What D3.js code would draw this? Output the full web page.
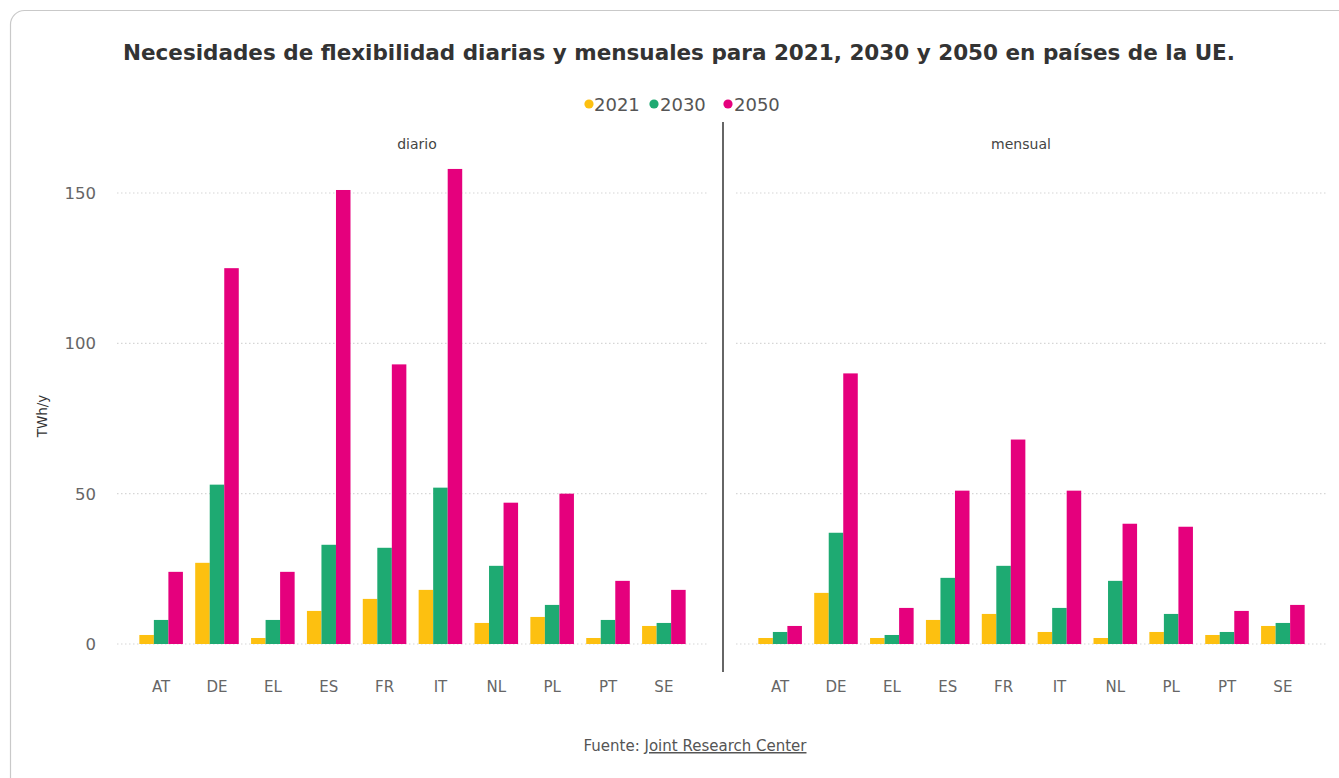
<!DOCTYPE html>
<html>
<head>
<meta charset="utf-8">
<script src="https://cdn.jsdelivr.net/npm/d3@7"></script>
<style>
  html, body { margin: 0; padding: 0; background: #fff; }
  svg { display: block; font-family: "DejaVu Sans", "Noto Sans", sans-serif; }
</style>
</head>
<body>
<svg id="chart" width="1339" height="778"></svg>
<script>
// Flexibility needs (TWh/y) per country, daily and monthly, for three horizon years
const countries = ["AT", "DE", "EL", "ES", "FR", "IT", "NL", "PL", "PT", "SE"];
const years = ["2021", "2030", "2050"];
const yearColors = ["#fdc010", "#1eaa72", "#e5007d"];

const daily2021 = [3, 27, 2, 11, 15, 18, 7, 9, 2, 6];
const daily2030 = [8, 53, 8, 33, 32, 52, 26, 13, 8, 7];
const daily2050 = [24, 125, 24, 151, 93, 158, 47, 50, 21, 18];

const monthly2021 = [2, 17, 2, 8, 10, 4, 2, 4, 3, 6];
const monthly2030 = [4, 37, 3, 22, 26, 12, 21, 10, 4, 7];
const monthly2050 = [6, 90, 12, 51, 68, 51, 40, 39, 11, 13];

const yTicks = [0, 50, 100, 150];
const panelNames = ["diario", "mensual"];

const titleText = "Necesidades de flexibilidad diarias y mensuales para 2021, 2030 y 2050 en países de la UE.";
const yLabel = "TWh/y";
const sourcePrefix = "Fuente: ";
const sourceName = "Joint Research Center";

const panels = [
  { name: panelNames[0], series: [daily2021, daily2030, daily2050], range: [117, 708], labelX: 417 },
  { name: panelNames[1], series: [monthly2021, monthly2030, monthly2050], range: [736, 1327], labelX: 1021 }
];

const svg = d3.select("#chart");

// card frame
svg.append("rect")
  .attr("x", 10.5).attr("y", 10.5)
  .attr("width", 1400).attr("height", 820)
  .attr("rx", 14)
  .attr("fill", "#fff")
  .attr("stroke", "#c9c9c9")
  .attr("stroke-width", 1.2);

// title
svg.append("text")
  .attr("x", 679).attr("y", 60)
  .attr("text-anchor", "middle")
  .attr("font-size", 21.5)
  .attr("font-weight", 700)
  .attr("fill", "#333")
  .text(titleText);

// legend
const legendItems = [
  { label: years[0], color: yearColors[0], dot: 589, text: 594 },
  { label: years[1], color: yearColors[1], dot: 654, text: 660 },
  { label: years[2], color: yearColors[2], dot: 728, text: 734 }
];
const legend = svg.append("g");
legend.selectAll("circle").data(legendItems).join("circle")
  .attr("cx", d => d.dot).attr("cy", 104)
  .attr("r", 4.6)
  .attr("fill", d => d.color);
legend.selectAll("text").data(legendItems).join("text")
  .attr("x", d => d.text).attr("y", 110.5)
  .attr("font-size", 18)
  .attr("fill", "#555")
  .text(d => d.label);

// shared value scale
const y = d3.scaleLinear().domain([0, 150]).range([644, 193]);

// y axis tick labels
svg.append("g").selectAll("text").data(yTicks).join("text")
  .attr("x", 96).attr("y", d => y(d) + 6)
  .attr("text-anchor", "end")
  .attr("font-size", 16.5)
  .attr("fill", "#666")
  .text(d => d);

// y axis title
svg.append("text")
  .attr("transform", "translate(47,416) rotate(-90)")
  .attr("text-anchor", "middle")
  .attr("font-size", 13.5)
  .attr("fill", "#333")
  .text(yLabel);

panels.forEach(p => {
  const g = svg.append("g");

  const x0 = d3.scaleBand().domain(countries).range(p.range)
    .paddingInner(0.22).paddingOuter(0.4);
  const x1 = d3.scaleBand().domain(years).range([0, x0.bandwidth()]);

  // dotted gridlines
  g.append("g").selectAll("line").data(yTicks).join("line")
    .attr("x1", p.range[0]).attr("x2", p.range[1])
    .attr("y1", d => y(d)).attr("y2", d => y(d))
    .attr("stroke", "#d6d6d6")
    .attr("stroke-width", 1.2)
    .attr("stroke-dasharray", "1.5,2.5");

  // facet label
  g.append("text")
    .attr("x", p.labelX).attr("y", 149)
    .attr("text-anchor", "middle")
    .attr("font-size", 14)
    .attr("fill", "#444")
    .text(p.name);

  // grouped bars
  const rows = countries.map((c, i) => ({
    country: c,
    values: years.map((yr, k) => ({ year: yr, k, value: p.series[k][i] }))
  }));
  g.append("g").selectAll("g").data(rows).join("g")
    .attr("transform", d => `translate(${x0(d.country)},0)`)
    .selectAll("rect").data(d => d.values).join("rect")
      .attr("x", d => x1(d.year))
      .attr("width", x1.bandwidth())
      .attr("y", d => y(d.value))
      .attr("height", d => y(0) - y(d.value))
      .attr("fill", d => yearColors[d.k]);

  // category axis
  const xAxis = d3.axisBottom(x0).tickSize(0).tickPadding(0);
  const ax = g.append("g").attr("transform", "translate(0,681)").call(xAxis);
  ax.select(".domain").remove();
  ax.selectAll("text")
    .attr("font-size", 15)
    .attr("font-family", "'DejaVu Sans', 'Noto Sans', sans-serif")
    .attr("fill", "#666");
});

// divider between panels
svg.append("line")
  .attr("x1", 723).attr("x2", 723)
  .attr("y1", 122).attr("y2", 672)
  .attr("stroke", "#666")
  .attr("stroke-width", 2);

// source note
const src = svg.append("text")
  .attr("x", 695).attr("y", 751)
  .attr("text-anchor", "middle")
  .attr("font-size", 15)
  .attr("fill", "#555");
src.append("tspan").text(sourcePrefix);
src.append("tspan").attr("text-decoration", "underline").text(sourceName);
</script>
</body>
</html>
